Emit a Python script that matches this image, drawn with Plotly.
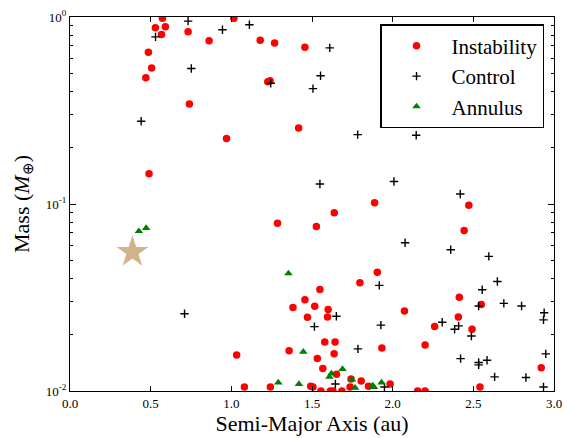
import plotly.graph_objects as go

# Final planets: semi-major axis (au) and mass (Earth masses)
instab_a = [0.573, 0.529, 0.591, 0.567, 0.732, 0.486, 0.506, 0.470, 0.740, 0.490,
            0.970, 1.016, 0.862, 1.179, 1.268, 1.456, 1.226, 1.240, 1.417, 1.286,
            1.527, 1.638, 1.888, 2.472, 2.443, 1.905, 1.797, 1.549, 1.456, 2.413,
            2.549, 1.517, 1.600, 2.073, 1.472, 1.596, 2.407, 2.260, 2.492, 1.579,
            1.643, 1.933, 2.201, 1.637, 1.533, 1.567, 1.652, 2.921, 1.742, 1.805,
            1.984, 1.492, 1.506, 1.736, 1.850, 2.541, 1.555, 1.614, 1.630, 1.685,
            2.155, 2.201, 1.382, 1.033, 1.358, 1.081, 1.242]
instab_m = [0.985, 0.877, 0.887, 0.805, 0.835, 0.648, 0.534, 0.473, 0.343, 0.145,
            0.224, 0.985, 0.746, 0.752, 0.726, 0.688, 0.451, 0.456, 0.255, 0.0788,
            0.0757, 0.0897, 0.1016, 0.0984, 0.0722, 0.0432, 0.0379, 0.0349, 0.0308, 0.0317,
            0.0290, 0.0284, 0.0273, 0.0268, 0.0248, 0.0249, 0.0249, 0.0221, 0.0214, 0.0183,
            0.0183, 0.0170, 0.0176, 0.0158, 0.0149, 0.0132, 0.0123, 0.0133, 0.0116, 0.0113,
            0.0109, 0.0106, 0.0105, 0.0105, 0.0106, 0.0105, 0.0100, 0.0100, 0.0100, 0.0100,
            0.0100, 0.0100, 0.0280, 0.0156, 0.0164, 0.0105, 0.0105]

control_a = [0.732, 0.530, 0.752, 0.441, 0.945, 1.112, 1.610, 1.553, 1.506, 1.244,
             1.783, 2.146, 1.549, 2.008, 2.419, 2.077, 2.360, 2.596, 1.917, 2.555,
             2.649, 2.533, 2.689, 2.799, 2.939, 2.935, 1.651, 1.515, 1.927, 2.307,
             2.384, 2.409, 2.488, 1.785, 2.421, 2.533, 2.533, 2.585, 2.632, 2.826,
             2.949, 2.935, 1.645, 1.949, 0.710]
control_m = [0.951, 0.783, 0.530, 0.277, 0.855, 0.909, 0.684, 0.485, 0.414, 0.442,
             0.235, 0.233, 0.128, 0.132, 0.113, 0.0621, 0.0569, 0.0525, 0.0367, 0.0348,
             0.0385, 0.0285, 0.0294, 0.0285, 0.0262, 0.0240, 0.0251, 0.0221, 0.0225, 0.0233,
             0.0214, 0.0223, 0.0197, 0.0168, 0.0149, 0.0142, 0.0138, 0.0146, 0.0119, 0.0118,
             0.0158, 0.0105, 0.0109, 0.0105, 0.0259]

annulus_a = [0.427, 0.472, 1.354, 1.446, 1.291, 1.419, 1.689, 1.620, 1.608, 1.748,
             1.767, 1.876, 1.884, 1.931]
annulus_m = [0.0716, 0.0744, 0.0425, 0.0162, 0.0111, 0.0109, 0.0131, 0.0124, 0.0119, 0.0115,
             0.0104, 0.0107, 0.0105, 0.0111]

# Mercury, for reference
mercury_a = [0.387]
mercury_m = [0.0553]

x_ticks = [0.0, 0.5, 1.0, 1.5, 2.0, 2.5, 3.0]
x_tick_text = ["0.0", "0.5", "1.0", "1.5", "2.0", "2.5", "3.0"]
y_ticks = [0.01, 0.1, 1.0]
y_tick_text = ["10<sup>-2</sup>", "10<sup>-1</sup>", "10<sup>0</sup>"]
y_minor = [k * 10 ** e for e in (-2, -1) for k in range(2, 10)]

SERIF = "Liberation Serif, Times New Roman, serif"

fig = go.Figure()
fig.add_trace(go.Scatter(
    x=instab_a, y=instab_m, mode="markers", name="Instability", legendgroup="a",
    marker=dict(symbol="circle", size=7.5, color="#ff0000", line=dict(width=0)),
))
fig.add_trace(go.Scatter(
    x=control_a, y=control_m, mode="markers", name="Control", legendgroup="b",
    marker=dict(symbol="cross-thin", size=6, color="black", line=dict(width=1.4, color="black")),
))
fig.add_trace(go.Scatter(
    x=annulus_a, y=annulus_m, mode="markers", name="Annulus", legendgroup="c",
    marker=dict(symbol="triangle-up", size=7.5, color="#008000", line=dict(width=0)),
))
fig.add_trace(go.Scatter(
    x=mercury_a, y=mercury_m, mode="markers", showlegend=False,
    marker=dict(symbol="star", size=24, color="#d2b48c", line=dict(width=0)),
))

fig.update_layout(
    width=570, height=438,
    margin=dict(l=70, r=8, t=13, b=44),
    paper_bgcolor="white", plot_bgcolor="white",
    font=dict(family=SERIF, size=13, color="black"),
    showlegend=True,
    legend=dict(
        x=0.98, y=0.98, xanchor="right", yanchor="top",
        bgcolor="white", bordercolor="black", borderwidth=1.2,
        font=dict(family=SERIF, size=21, color="black"),
        tracegroupgap=0, itemwidth=60,
    ),
)

fig.update_xaxes(
    range=[0, 3], tickvals=x_ticks, ticktext=x_tick_text,
    showgrid=False, zeroline=False,
    showline=True, linecolor="black", linewidth=1.2, mirror="ticks",
    ticks="inside", ticklen=5, tickwidth=1, tickcolor="black",
    tickfont=dict(family=SERIF, size=13),
    title=dict(text="Semi-Major Axis (au)", font=dict(family=SERIF, size=22), standoff=4),
)
fig.update_yaxes(
    type="log", range=[-2, 0], tickvals=y_ticks, ticktext=y_tick_text,
    showgrid=False, zeroline=False,
    showline=True, linecolor="black", linewidth=1.2, mirror="ticks",
    ticks="inside", ticklen=6, tickwidth=1, tickcolor="black",
    tickfont=dict(family=SERIF, size=13),
    minor=dict(tickvals=y_minor, ticks="inside", ticklen=3, tickwidth=1, tickcolor="black", showgrid=False),
    title=dict(text="Mass (<i>M</i><sub>⊕</sub>)", font=dict(family=SERIF, size=22), standoff=10),
)

fig.write_html("out.html")
